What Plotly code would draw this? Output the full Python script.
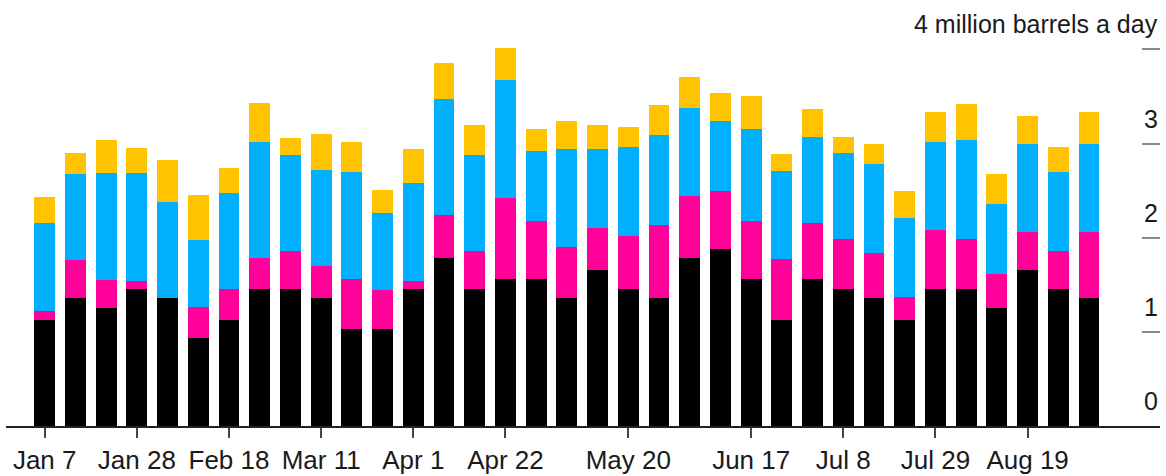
import plotly.graph_objects as go

weeks = ["Jan 7", "Jan 14", "Jan 21", "Jan 28", "Feb 4", "Feb 11", "Feb 18", "Feb 25",
         "Mar 4", "Mar 11", "Mar 18", "Mar 25", "Apr 1", "Apr 8", "Apr 15", "Apr 22",
         "Apr 29", "May 6", "May 13", "May 20", "May 27", "Jun 3", "Jun 10", "Jun 17",
         "Jun 24", "Jul 1", "Jul 8", "Jul 15", "Jul 22", "Jul 29", "Aug 5", "Aug 12",
         "Aug 19", "Aug 26", "Sep 2"]

black = [1.13, 1.36, 1.25, 1.45, 1.36, 0.94, 1.13, 1.45, 1.45, 1.36, 1.03, 1.03, 1.45, 1.78,
         1.45, 1.56, 1.56, 1.36, 1.66, 1.45, 1.36, 1.78, 1.88, 1.56, 1.13, 1.56, 1.45, 1.36,
         1.13, 1.45, 1.45, 1.25, 1.66, 1.45, 1.36]
pink = [0.09, 0.40, 0.30, 0.09, 0.00, 0.32, 0.33, 0.33, 0.41, 0.34, 0.53, 0.41, 0.09, 0.46,
        0.41, 0.86, 0.62, 0.54, 0.44, 0.57, 0.78, 0.66, 0.62, 0.62, 0.64, 0.60, 0.54, 0.48,
        0.24, 0.63, 0.54, 0.36, 0.40, 0.41, 0.70]
blue = [0.94, 0.92, 1.14, 1.15, 1.02, 0.72, 1.02, 1.24, 1.02, 1.02, 1.14, 0.82, 1.04, 1.23,
        1.02, 1.25, 0.74, 1.04, 0.84, 0.94, 0.95, 0.94, 0.74, 0.97, 0.94, 0.91, 0.91, 0.94,
        0.84, 0.94, 1.05, 0.75, 0.94, 0.84, 0.94]
yellow = [0.27, 0.22, 0.35, 0.26, 0.45, 0.47, 0.26, 0.41, 0.18, 0.38, 0.32, 0.25, 0.36, 0.39,
          0.32, 0.35, 0.24, 0.30, 0.26, 0.22, 0.32, 0.33, 0.30, 0.36, 0.18, 0.30, 0.17, 0.22,
          0.29, 0.32, 0.38, 0.32, 0.29, 0.26, 0.33]

series = [
    ("Group A", black, "#000000"),
    ("Group B", pink, "#FF0099"),
    ("Group C", blue, "#00B0FF"),
    ("Group D", yellow, "#FFC300"),
]

x_tick_labels = ["Jan 7", "Jan 28", "Feb 18", "Mar 11", "Apr 1", "Apr 22", "May 20",
                 "Jun 17", "Jul 8", "Jul 29", "Aug 19"]
y_tick_vals = [0, 1, 2, 3, 4]
y_tick_text = ["0", "1", "2", "3", "4 million barrels a day"]

FONT = "Liberation Sans, Arial, Helvetica, sans-serif"
TEXT = "#1a1a1a"

fig = go.Figure()
for name, vals, color in series:
    fig.add_trace(go.Bar(
        x=weeks, y=vals, name=name,
        marker=dict(color=color, line=dict(width=0)),
        width=0.68,
    ))

for v, t in zip(y_tick_vals, y_tick_text):
    fig.add_annotation(
        x=1, xref="paper", xanchor="right",
        y=v, yref="y", yanchor="middle", yshift=25,
        text=t, showarrow=False,
        font=dict(family=FONT, size=25, color=TEXT),
    )

fig.update_layout(
    barmode="stack",
    width=1166, height=476,
    margin=dict(l=6, r=6, t=40, b=50),
    paper_bgcolor="white", plot_bgcolor="white",
    showlegend=False,
    font=dict(family=FONT, size=25, color=TEXT),
    xaxis=dict(
        type="category",
        range=[-1.26, 36.31],
        automargin=False,
        tickmode="array", tickvals=x_tick_labels, ticktext=x_tick_labels,
        ticks="outside", ticklen=10, tickwidth=2, tickcolor="#444444",
        ticklabelstandoff=0,
        showline=True, linecolor="#222222", linewidth=2,
        showgrid=False, zeroline=False,
        tickfont=dict(family=FONT, size=26, color=TEXT),
    ),
    yaxis=dict(
        side="right",
        range=[0, 4.1],
        automargin=False,
        tickmode="array", tickvals=[1, 2, 3, 4],
        ticks="inside", ticklen=18, tickwidth=2, tickcolor="#8a8a8a",
        showticklabels=False,
        showline=False, showgrid=False, zeroline=False,
    ),
)

fig.write_html(
    "out.html",
    config={"displayModeBar": False},
    post_script="document.body.style.margin='0';document.body.style.overflow='hidden';",
)
